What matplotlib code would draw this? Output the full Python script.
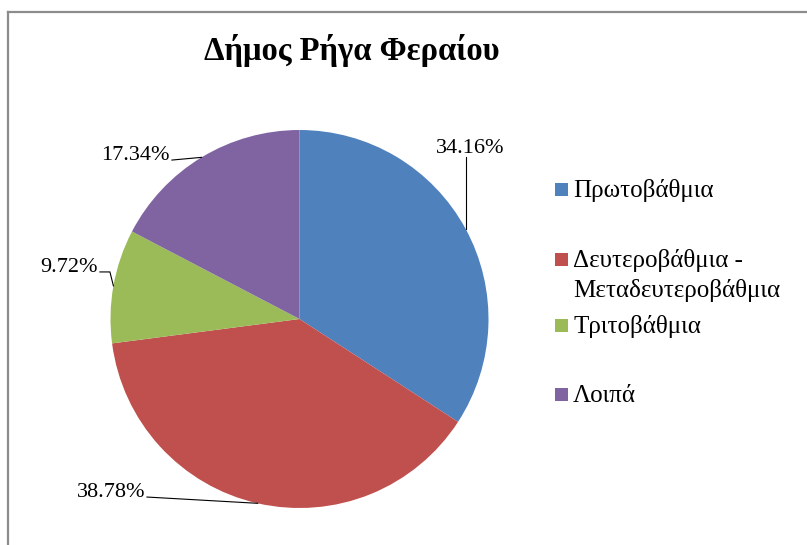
import numpy as np
import matplotlib
matplotlib.use("Agg")
import matplotlib.pyplot as plt
from matplotlib.patches import Rectangle

# data
categories = ["Πρωτοβάθμια", "Δευτεροβάθμια -\nΜεταδευτεροβάθμια", "Τριτοβάθμια", "Λοιπά"]
values = [34.16, 38.78, 9.72, 17.34]
colors = ["#4F81BD", "#C0504D", "#9BBB59", "#8064A2"]
title = "Δήμος Ρήγα Φεραίου"

W, H = 807, 545
plt.rcParams['font.family'] = ['Liberation Serif', 'DejaVu Serif']

fig = plt.figure(figsize=(W / 100, H / 100), dpi=100)

# pie axes: centre (299.5, 319) px, radius 189 px
cx, cy, r = 299.5, 319, 189
ax = fig.add_axes([(cx - r) / W, (H - cy - r) / H, 2 * r / W, 2 * r / H])
wedges, _ = ax.pie(values, colors=colors, startangle=90, counterclock=False,
                   radius=1, wedgeprops=dict(linewidth=0))
ax.set_xlim(-1, 1)
ax.set_ylim(-1, 1)
ax.set_aspect('equal')
ax.axis('off')

# label layout (pie data units): text anchor, line start, optional elbow
label_pos = {
    0: dict(xy=(0.902, 0.878), ha='center', start=(0.881, 0.857), elbow=None),
    1: dict(xy=(-0.817, -0.942), ha='right', start=(-0.807, -0.942), elbow=None),
    2: dict(xy=(-1.066, 0.249), ha='right', start=(-1.056, 0.249), elbow=(-1.003, 0.249)),
    3: dict(xy=(-0.685, 0.841), ha='right', start=(-0.675, 0.841), elbow=None),
}

for i, w in enumerate(wedges):
    mid = np.deg2rad((w.theta1 + w.theta2) / 2)
    ex, ey = np.cos(mid), np.sin(mid)
    p = label_pos[i]
    ax.text(p['xy'][0], p['xy'][1], f"{values[i]:.2f}%", ha=p['ha'], va='baseline',
            fontsize=16, color='black', clip_on=False)
    xs = [p['start'][0]]
    ys = [p['start'][1]]
    if p['elbow'] is not None:
        xs.append(p['elbow'][0])
        ys.append(p['elbow'][1])
    if p['ha'] == 'center':
        xs.append(p['start'][0])
        ys.append(ey)
    else:
        xs.append(ex)
        ys.append(ey)
    ax.plot(xs, ys, color='black', lw=0.8, clip_on=False)

# title
fig.text(352 / W, 1 - 60 / H, title, ha='center', va='baseline',
         fontsize=23.5, fontweight='bold')

# legend (manual, Excel-like spacing)
leg_baselines = [197, 267, 333, 402]
for lab, col, yb in zip(categories, colors, leg_baselines):
    sq_c = yb - 7.5
    fig.patches.append(Rectangle((555 / W, 1 - (sq_c + 6.5) / H), 13 / W, 13 / H,
                                 transform=fig.transFigure, facecolor=col,
                                 edgecolor='none'))
    lines = lab.split("\n")
    for k, ln in enumerate(lines):
        fig.text(573 / W, 1 - (yb + 30 * k) / H, ln, ha='left', va='baseline',
                 fontsize=18)

# chart border (left and top visible)
fig.add_artist(plt.Line2D([8 / W, 8 / W], [0, 1 - 12 / H], transform=fig.transFigure,
                          color='#8c8c8c', lw=1.6))
fig.add_artist(plt.Line2D([8 / W, 1], [1 - 12 / H, 1 - 12 / H], transform=fig.transFigure,
                          color='#8c8c8c', lw=1.6))

fig.savefig("out.png", dpi=100, facecolor='white')
